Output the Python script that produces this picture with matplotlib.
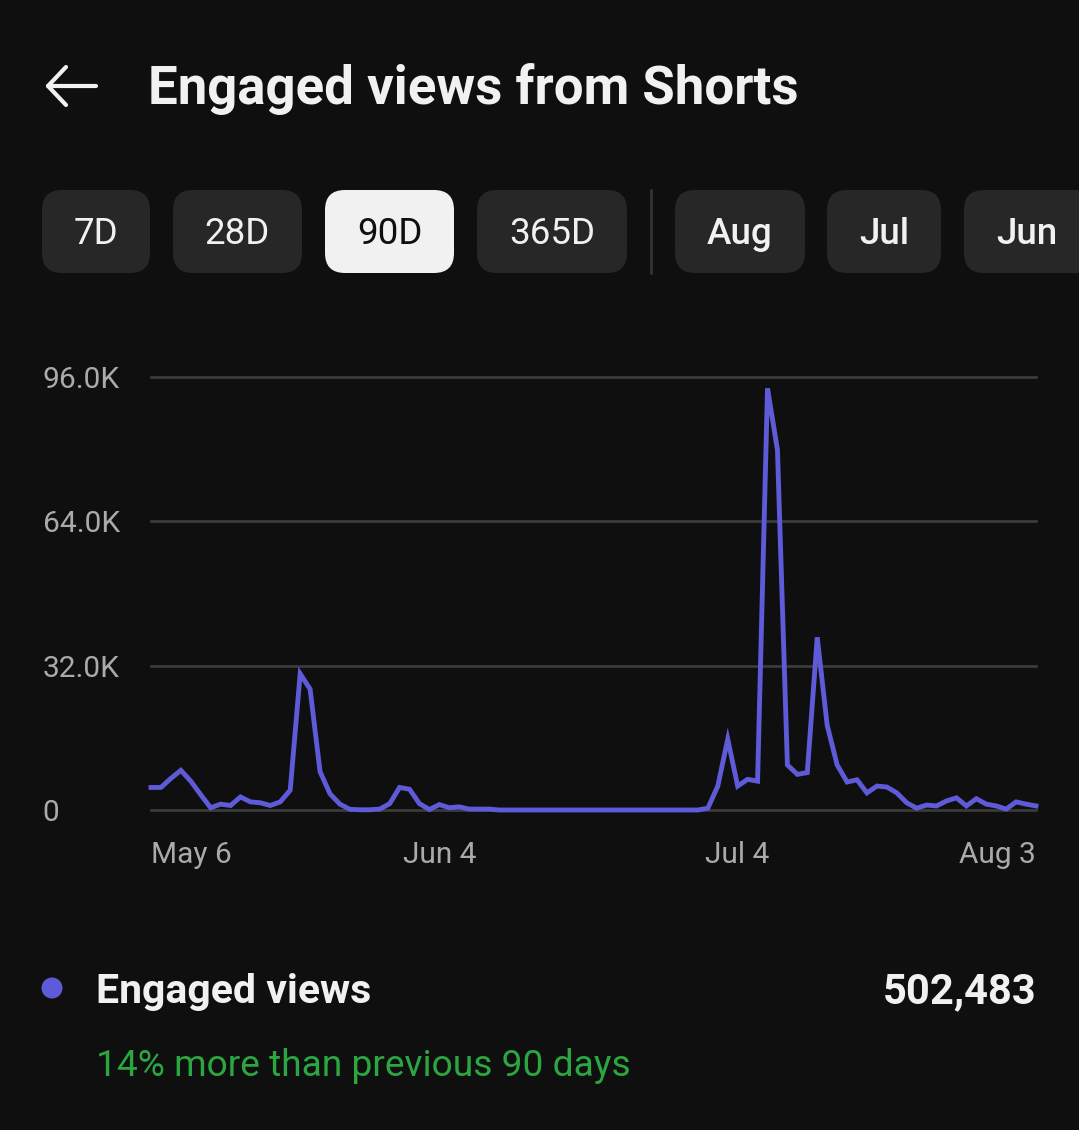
import matplotlib
matplotlib.use("Agg")
import matplotlib.pyplot as plt
from matplotlib.patches import FancyBboxPatch, Circle
import numpy as np

plt.rcParams['font.family'] = ['Roboto', 'DejaVu Sans']

# ---- data (thousands of engaged views per day, May 6 .. Aug 3) ----
values_k = [5.0, 5.0, 7.0, 8.8, 6.4, 3.4, 0.5, 1.3, 1.0, 2.9,
            1.8, 1.6, 1.0, 1.8, 4.4, 30.2, 26.8, 8.5, 3.6, 1.3,
            0.15, 0.05, 0.05, 0.2, 1.4, 5.0, 4.6, 1.4, 0.1, 1.2,
            0.5, 0.7, 0.2, 0.2, 0.2, 0, 0, 0, 0, 0,
            0, 0, 0, 0, 0, 0, 0, 0, 0, 0,
            0, 0, 0, 0, 0, 0, 0.4, 5.3, 15.7, 5.3,
            6.8, 6.4, 93.5, 79.8, 10.0, 7.9, 8.3, 38.3, 18.8, 10.0,
            6.2, 6.7, 3.8, 5.3, 5.1, 3.8, 1.6, 0.4, 1.1, 0.9,
            2.0, 2.7, 0.9, 2.5, 1.3, 0.9, 0.2, 1.8, 1.3, 0.9]
days = list(range(len(values_k)))
x_tick_pos = [0, 29, 59, 89]
x_tick_labels = ["May 6", "Jun 4", "Jul 4", "Aug 3"]
y_tick_vals = [0, 32000, 64000, 96000]
y_tick_labels = ["0", "32.0K", "64.0K", "96.0K"]
buttons = ["7D", "28D", "90D", "365D", "Aug", "Jul", "Jun"]
selected = "90D"
title = "Engaged views from Shorts"
series_name = "Engaged views"
total_text = "502,483"
compare_text = "14% more than previous 90 days"

BG = '#0f0f0f'
LINE = '#5e5ad8'
GRID = '#3a3a3a'
TICK = '#aaaaaa'
W, H = 1079, 1130
DPI = 100

fig = plt.figure(figsize=(W / DPI, H / DPI), dpi=DPI, facecolor=BG)

# overlay in pixel coordinates
ov = fig.add_axes([0, 0, 1, 1], zorder=0)
ov.set_xlim(0, W)
ov.set_ylim(H, 0)
ov.axis('off')
ov.set_facecolor(BG)

# back arrow
ov.plot([48, 96], [86, 86], color='#f1f1f1', lw=3.0, solid_capstyle='round')
ov.plot([66, 48, 66], [67, 86, 105], color='#f1f1f1', lw=3.0,
        solid_capstyle='round', solid_joinstyle='round')

ov.text(148, 104, title, fontsize=38, fontweight='bold', color='#f1f1f1',
        ha='left', va='baseline')

# period buttons
btn_x = [(42, 150), (173, 302), (325, 454), (477, 627),
         (675, 805), (827, 941), (964, 1100)]
for lab, (x0, x1) in zip(buttons, btn_x):
    sel = lab == selected
    p = FancyBboxPatch((x0 + 20, 190 + 20), (x1 - x0) - 40, 83 - 40,
                       boxstyle="round,pad=20", linewidth=0,
                       facecolor='#f1f1f1' if sel else '#272727')
    ov.add_patch(p)
    cx = (x0 + x1) / 2 if lab != "Jun" else 1027
    ov.text(cx, 234, lab, fontsize=26.5, color='#0f0f0f' if sel else '#f1f1f1',
            ha='center', va='center', fontweight='medium' if lab in ("Aug", "Jul", "Jun") else 'normal')
ov.plot([651, 651], [190, 273], color='#333333', lw=2)

# legend / summary
ov.add_patch(Circle((52, 988), 10.5, facecolor=LINE, edgecolor='none'))
ov.text(96, 1003, series_name, fontsize=29.5, fontweight='bold', color='#f1f1f1',
        ha='left', va='baseline')
ov.text(1036, 1003, total_text, fontsize=30, fontweight='bold', color='#f1f1f1',
        ha='right', va='baseline')
ov.text(96, 1076, compare_text, fontsize=26.7, color='#2ba640',
        ha='left', va='baseline')

# chart
left, right, bottom, top = 151, 1036, 810, 377
ax = fig.add_axes([left / W, 1 - bottom / H, (right - left) / W, (bottom - top) / H], zorder=2)
ax.set_facecolor('none')
ax.set_xlim(0, 89)
ax.set_ylim(0, 96000)
for s in ax.spines.values():
    s.set_visible(False)
for yv in y_tick_vals:
    ax.axhline(yv, color=GRID, lw=2, zorder=1, clip_on=False)
ax.plot(days, np.array(values_k) * 1000, color=LINE, lw=3.5, zorder=3,
        clip_on=False, solid_joinstyle='miter')

ax.set_yticks(y_tick_vals)
ax.set_yticklabels(y_tick_labels)
ax.tick_params(axis='y', length=0, pad=78, labelsize=21.5, labelcolor=TICK)
for t in ax.get_yticklabels():
    t.set_horizontalalignment('left')

ax.set_xticks(x_tick_pos)
ax.set_xticklabels(x_tick_labels)
ax.tick_params(axis='x', length=0, pad=22, labelsize=21.5, labelcolor=TICK)
xl = ax.get_xticklabels()
xl[0].set_horizontalalignment('left')
xl[-1].set_horizontalalignment('right')

fig.savefig('out.png', dpi=DPI, facecolor=BG)
